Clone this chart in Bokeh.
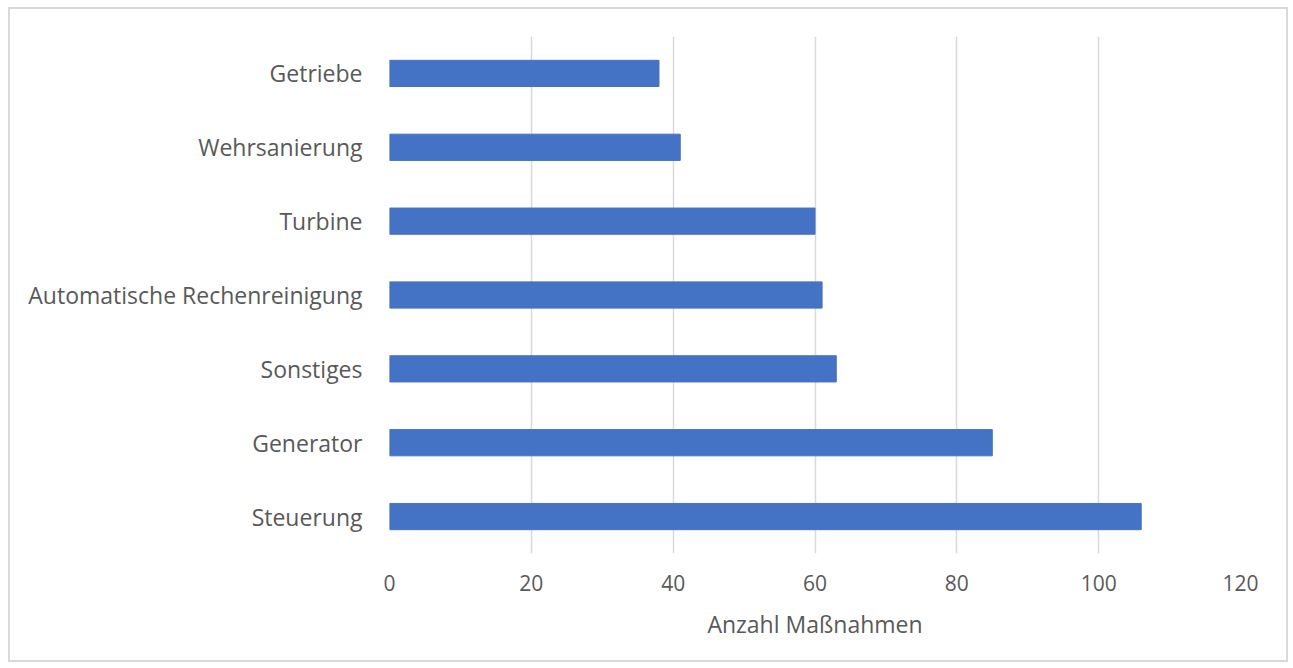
from bokeh.plotting import figure
from bokeh.models import FactorRange, Range1d, SingleIntervalTicker
from bokeh.embed import file_html
from bokeh.resources import INLINE

categories = ["Getriebe", "Wehrsanierung", "Turbine", "Automatische Rechenreinigung",
              "Sonstiges", "Generator", "Steuerung"]
values = [38, 41, 60, 61, 63, 85, 106]
x_title = "Anzahl Maßnahmen"

FONT = "Open Sans"
TXT = "#595959"

p = figure(width=1280, height=655, output_backend="svg", toolbar_location=None,
           y_range=FactorRange(factors=categories[::-1]), x_range=Range1d(0, 120),
           min_border_left=379, min_border_right=50, min_border_top=27, min_border_bottom=111)
p.styles = {"border": "2px solid #d9d9d9", "box-sizing": "border-box"}
p.margin = (7, 0, 0, 8)

p.hbar(y=categories, right=values, left=0, height=0.355, color="#4472C4")

p.outline_line_color = None
p.ygrid.grid_line_color = None
p.xgrid.grid_line_color = "#d9d9d9"
p.xgrid.grid_line_width = 1.5
p.xaxis.ticker = SingleIntervalTicker(interval=20)

for ax in (p.xaxis, p.yaxis):
    ax.axis_line_color = None
    ax.major_tick_line_color = None
    ax.minor_tick_line_color = None
    ax.major_label_text_font = FONT
    ax.major_label_text_color = TXT

p.yaxis.major_label_text_font_size = "23px"
p.xaxis.major_label_text_font_size = "21px"
p.yaxis.major_label_standoff = 21
p.xaxis.major_label_standoff = 15
p.xaxis.axis_label = x_title
p.xaxis.axis_label_text_font = FONT
p.xaxis.axis_label_text_color = TXT
p.xaxis.axis_label_text_font_size = "23px"
p.xaxis.axis_label_text_font_style = "normal"
p.xaxis.axis_label_standoff = 14

open("out.html", "w").write(file_html(p, INLINE))
